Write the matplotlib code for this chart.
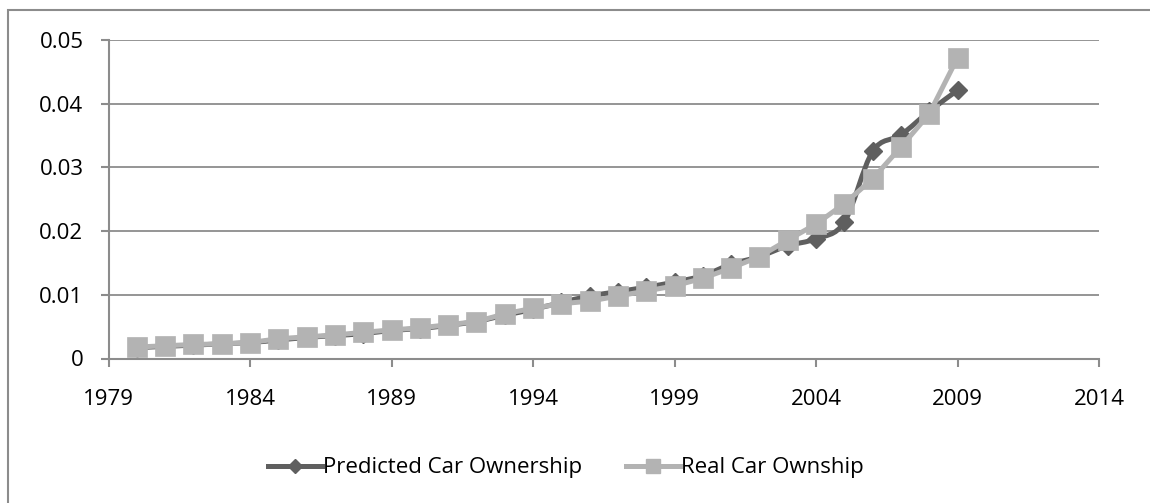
import numpy as np
import matplotlib.pyplot as plt
from matplotlib.path import Path
from matplotlib.patches import PathPatch, Rectangle
from matplotlib.lines import Line2D

plt.rcParams['font.family'] = ['Open Sans', 'DejaVu Sans']

years = list(range(1980, 2010))
predicted = [0.0017, 0.0019, 0.0021, 0.0023, 0.0025, 0.0029, 0.0033, 0.0036, 0.0039, 0.0044,
             0.0047, 0.0052, 0.0058, 0.0068, 0.0077, 0.0088, 0.0098, 0.0105, 0.0112, 0.0120,
             0.0130, 0.0148, 0.0160, 0.0177, 0.0188, 0.0214, 0.0325, 0.0351, 0.0388, 0.0421]
real = [0.0018, 0.0020, 0.0022, 0.0023, 0.0025, 0.0031, 0.0034, 0.0037, 0.0041, 0.0045,
        0.0048, 0.0053, 0.0058, 0.0070, 0.0079, 0.0086, 0.0090, 0.0098, 0.0106, 0.0114,
        0.0126, 0.0142, 0.0160, 0.0186, 0.0211, 0.0243, 0.0282, 0.0332, 0.0384, 0.0472]
xticks = [1979, 1984, 1989, 1994, 1999, 2004, 2009, 2014]
yticks = [0, 0.01, 0.02, 0.03, 0.04, 0.05]
ylabels = ["0", "0.01", "0.02", "0.03", "0.04", "0.05"]

dark = "#5f5f5f"
light = "#b3b3b3"
axcol = "#8c8c8c"


def smooth_path(x, y, k=1/6):
    # excel style smoothed line as cubic bezier segments
    x = np.asarray(x, float)
    y = np.asarray(y, float)
    n = len(x)
    verts = [(x[0], y[0])]
    codes = [Path.MOVETO]
    for i in range(n - 1):
        i0 = max(i - 1, 0)
        i3 = min(i + 2, n - 1)
        c1 = (x[i] + (x[i + 1] - x[i0]) * k, y[i] + (y[i + 1] - y[i0]) * k)
        c2 = (x[i + 1] - (x[i3] - x[i]) * k, y[i + 1] - (y[i3] - y[i]) * k)
        verts += [c1, c2, (x[i + 1], y[i + 1])]
        codes += [Path.CURVE4] * 3
    return Path(verts, codes)


fig = plt.figure(figsize=(11.5, 5.03), dpi=100)
ax = fig.add_axes([108.5 / 1150, (503 - 358.5) / 503, (1099 - 108.5) / 1150, (358.5 - 40) / 503])

fig.patches.append(Rectangle((7.5 / 1150, -0.1), 1.2, (503 - 10.5) / 503 + 0.1,
                             transform=fig.transFigure, fill=False, edgecolor="#8c8c8c", lw=1.5))

for v in yticks[1:]:
    ax.axhline(v, color=axcol, lw=1.3, zorder=1)

ax.add_patch(PathPatch(smooth_path(years, predicted), fill=False, edgecolor=dark, lw=3.6,
                       capstyle="round", joinstyle="round", zorder=2))
ax.plot(years, predicted, ls="none", marker="D", ms=9.5, color=dark, mec=dark, zorder=3)
ax.plot(years, real, color=light, lw=3.6, marker="s", ms=14, mec=light, mew=0.5,
        solid_joinstyle="round", zorder=4)

ax.set_xlim(1979, 2014)
ax.set_ylim(0, 0.05)
ax.set_xticks(xticks)
ax.set_xticklabels([str(t) for t in xticks])
ax.set_yticks(yticks)
ax.set_yticklabels(ylabels)

for s in ["top", "right"]:
    ax.spines[s].set_visible(False)
for s in ["left", "bottom"]:
    ax.spines[s].set_color(axcol)
    ax.spines[s].set_linewidth(1.5)
ax.tick_params(axis="both", color=axcol, width=1.5, length=6, labelsize=16, labelcolor="black")
ax.tick_params(axis="y", pad=12)
ax.tick_params(axis="x", pad=16)

handles = [Line2D([], [], color=dark, lw=3.6, marker="D", ms=7),
           Line2D([], [], color=light, lw=3.6, marker="s", ms=10)]
fig.legend(handles, ["Predicted Car Ownership", "Real Car Ownship"], loc="center",
           bbox_to_anchor=(566 / 1150, (503 - 468) / 503), ncol=2, frameon=False,
           fontsize=16, handlelength=2.4, handletextpad=0.05, columnspacing=2.0)

fig.savefig("out.png", dpi=100)
